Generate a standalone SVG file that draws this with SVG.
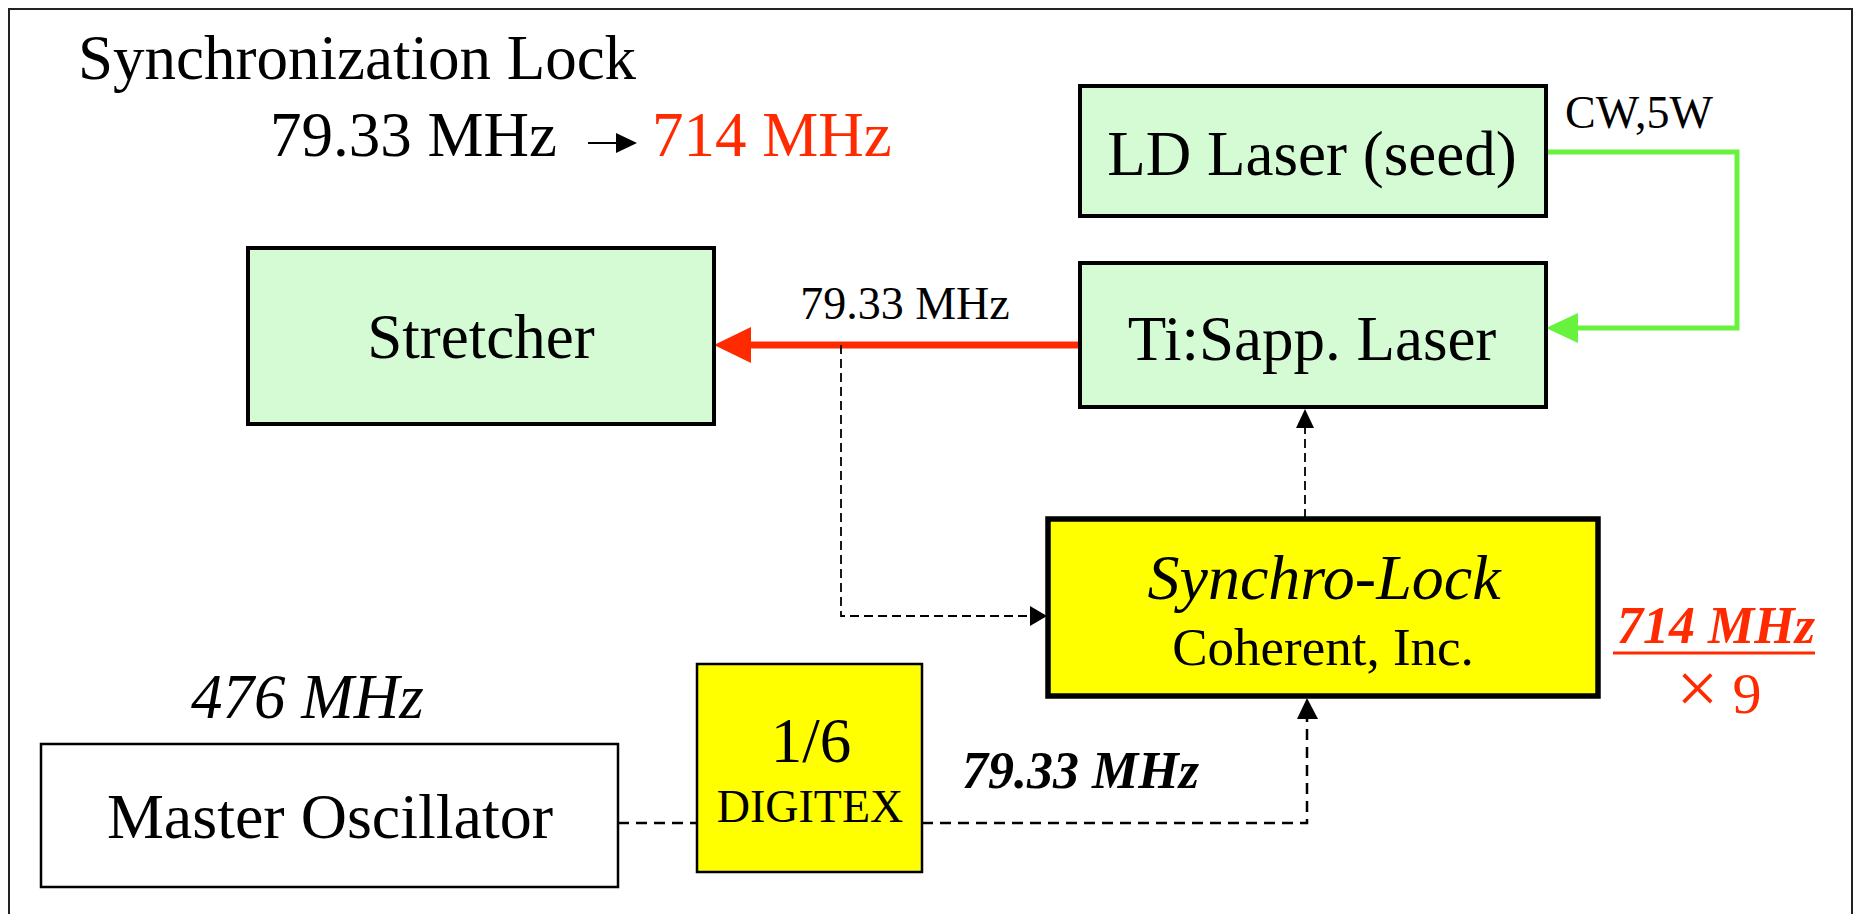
<svg xmlns="http://www.w3.org/2000/svg" width="1858" height="914" viewBox="0 0 1858 914">
<style>
text{font-family:"Liberation Serif","Times New Roman",serif;fill:#000}
.box{stroke:#000;stroke-width:4}
.green{fill:#d4fbd4}
.yellow{fill:#ffff00}
.dash{fill:none;stroke:#000;stroke-width:1.8;stroke-dasharray:9,5}
.dash2{fill:none;stroke:#000;stroke-width:2.5;stroke-dasharray:11,7}
</style>
<rect x="0" y="0" width="1858" height="914" fill="#fff"/>
<rect x="9" y="9" width="1843" height="930" fill="none" stroke="#222" stroke-width="2"/>

<g id="title">
<text x="78" y="79" font-size="63">Synchronization Lock</text>
<text x="270" y="156" font-size="63">79.33 MHz</text>
<line x1="588" y1="143" x2="620" y2="143" stroke="#000" stroke-width="2"/>
<path d="M616,133L637,143L616,153z" fill="#000"/>
<text x="652" y="156" font-size="63" style="fill:#ff2a00">714 MHz</text>
</g>

<g id="connectors">
<polyline points="1546,152 1737,152 1737,328 1575,328" fill="none" stroke="#66f23d" stroke-width="5"/>
<path d="M1546,328L1578,313L1578,343z" fill="#66f23d"/>
<line x1="1080" y1="345" x2="748" y2="345" stroke="#ff2a00" stroke-width="7"/>
<path d="M714,345L751,327L751,363z" fill="#ff2a00"/>
<polyline points="841,345 841,616 1032,616" class="dash"/>
<path d="M1047,616L1030,606L1030,626z" fill="#000"/>
<line x1="1305" y1="518" x2="1305" y2="425" class="dash"/>
<path d="M1305,409L1296,428L1314,428z" fill="#000"/>
<line x1="618" y1="823" x2="697" y2="823" class="dash2"/>
<polyline points="922,823 1307,823 1307,718" class="dash2"/>
<path d="M1307,698L1297,719L1318,719z" fill="#000"/>
</g>

<g id="ld-laser">
<rect x="1080" y="86" width="466" height="130" class="box green"/>
<text x="1312" y="175" font-size="63" text-anchor="middle">LD Laser (seed)</text>
</g>
<text x="1565" y="128" font-size="46">CW,5W</text>

<g id="tisapp">
<rect x="1080" y="263" width="466" height="144" class="box green"/>
<text x="1312" y="360" font-size="63" text-anchor="middle">Ti:Sapp. Laser</text>
</g>

<g id="stretcher">
<rect x="248" y="248" width="466" height="176" class="box green"/>
<text x="481" y="358" font-size="63" text-anchor="middle">Stretcher</text>
</g>
<text x="905" y="319" font-size="46" text-anchor="middle">79.33 MHz</text>

<g id="synchrolock">
<rect x="1048" y="519" width="550" height="177" class="yellow" stroke="#000" stroke-width="5.5"/>
<text x="1324" y="599" font-size="64" font-style="italic" text-anchor="middle">Synchro-Lock</text>
<text x="1323" y="665" font-size="53" text-anchor="middle">Coherent, Inc.</text>
</g>

<g id="mult">
<text x="1716" y="643" font-size="52" font-style="italic" font-weight="bold" text-anchor="middle" style="fill:#ff2a00">714 MHz</text>
<line x1="1613" y1="653" x2="1815" y2="653" stroke="#ff2a00" stroke-width="3"/>
<text x="1719" y="713" font-size="58" text-anchor="middle" style="fill:#ff2a00"><tspan font-size="74">×</tspan> 9</text>
</g>

<g id="master">
<rect x="41" y="744" width="577" height="143" fill="#fff" stroke="#000" stroke-width="2.5"/>
<text x="330" y="838" font-size="64" text-anchor="middle">Master Oscillator</text>
</g>
<text x="191" y="718" font-size="63" font-style="italic">476 MHz</text>

<g id="digitex">
<rect x="697" y="664" width="225" height="208" class="yellow" stroke="#000" stroke-width="2.5"/>
<text x="811" y="762" font-size="63" text-anchor="middle">1/6</text>
<text x="810" y="822" font-size="46" text-anchor="middle">DIGITEX</text>
</g>
<text x="962" y="788" font-size="52" font-style="italic" font-weight="bold">79.33 MHz</text>
</svg>
